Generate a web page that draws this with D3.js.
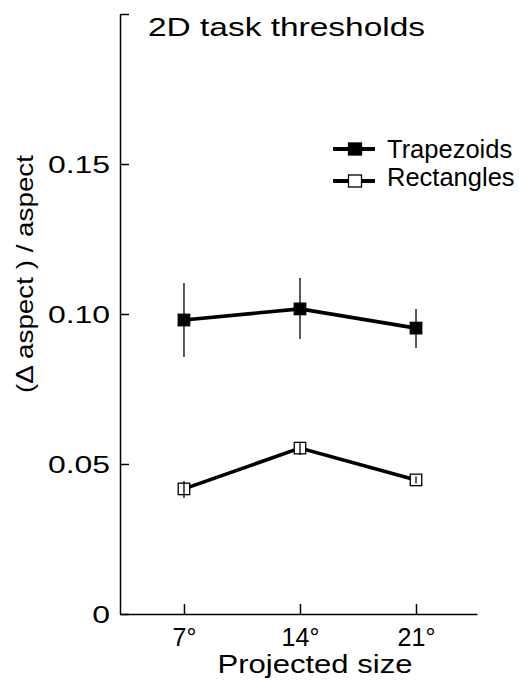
<!DOCTYPE html>
<html>
<head>
<meta charset="utf-8">
<script src="https://cdn.jsdelivr.net/npm/d3@7"></script>
<style>
  body { margin: 0; background: #fff; }
  text { font-family: "Liberation Sans", Arial, Helvetica, sans-serif; fill: #000; }
</style>
</head>
<body>
<div id="chart-area"></div>
<script>

// Data
var sizes = [7, 14, 21];
var sizeLabels = ["7°", "14°", "21°"];

var trapezoids   = [0.0980, 0.1017, 0.0953];
var trapezoidsLo = [0.0857, 0.0917, 0.0887];
var trapezoidsHi = [0.1103, 0.1120, 0.1017];

var rectangles   = [0.0417, 0.0553, 0.0447];
var rectanglesLo = [0.0387, 0.0530, 0.0436];
var rectanglesHi = [0.0443, 0.0573, 0.0458];

var yTicks = [0, 0.05, 0.10, 0.15, 0.20];
var yTickLabels = ["0", "0.05", "0.10", "0.15", ""];

var seriesNames = ["Trapezoids", "Rectangles"];

// SVG drawing area
var margin = {top: 14, right: 42, bottom: 72, left: 120};

var width = 519 - margin.left - margin.right,
    height = 686 - margin.top - margin.bottom;

var svg = d3.select("#chart-area").append("svg")
    .attr("width", 519)
    .attr("height", 686)
  .append("g")
    .attr("transform", "translate(" + margin.left + "," + margin.top + ")");

// scales
var x = d3.scaleLinear()
    .domain([3.14, 24.68])
    .range([0, width]);

var y = d3.scaleLinear()
    .domain([0, 0.2])
    .range([height, 0]);

var xAxis = d3.axisBottom(x)
    .tickValues(sizes)
    .tickFormat(function(d, i) { return sizeLabels[i]; })
    .tickSizeInner(-10)
    .tickSizeOuter(0)
    .tickPadding(14);

var yAxis = d3.axisLeft(y)
    .tickValues(yTicks)
    .tickFormat(function(d, i) { return yTickLabels[i]; })
    .tickSizeInner(-9)
    .tickSizeOuter(0)
    .tickPadding(10);

var gx = svg.append("g")
    .attr("class", "axis x-axis")
    .attr("transform", "translate(0," + height + ")")
    .call(xAxis);

var gy = svg.append("g")
    .attr("class", "axis y-axis")
    .call(yAxis);

[gx, gy].forEach(function(g) {
  g.attr("font-family", null).attr("font-size", null);
  g.selectAll("path, line").attr("stroke", "#000").attr("stroke-width", 1.5);
});

gx.selectAll("text").attr("font-size", 25);

// y tick labels look wide in the original
gy.selectAll("text")
    .attr("font-size", 24)
    .attr("dy", "0.36em")
    .each(function() {
      var len = this.getComputedTextLength();
      if (len > 0) {
        d3.select(this)
          .attr("textLength", len * 1.33)
          .attr("lengthAdjust", "spacingAndGlyphs");
      }
    });

// axis titles
svg.append("text")
    .attr("x", x(14) + 15)
    .attr("y", height + 59)
    .attr("text-anchor", "middle")
    .attr("font-size", 26)
    .attr("textLength", 195)
    .attr("lengthAdjust", "spacingAndGlyphs")
    .text("Projected size");

svg.append("text")
    .attr("transform", "translate(" + (33 - margin.left) + "," + (274 - margin.top) + ") rotate(-90)")
    .attr("text-anchor", "middle")
    .attr("font-size", 24)
    .attr("textLength", 238)
    .attr("lengthAdjust", "spacingAndGlyphs")
    .text("(\u0394 aspect ) / aspect");

// title
svg.append("text")
    .attr("x", 148 - margin.left)
    .attr("y", 36 - margin.top)
    .attr("font-size", 26)
    .attr("textLength", 277)
    .attr("lengthAdjust", "spacingAndGlyphs")
    .text("2D task thresholds");

// series
var series = [
  {name: seriesNames[0], values: trapezoids, lo: trapezoidsLo, hi: trapezoidsHi, fill: "#000"},
  {name: seriesNames[1], values: rectangles, lo: rectanglesLo, hi: rectanglesHi, fill: "#fff"}
];

var line = d3.line()
    .x(function(d, i) { return x(sizes[i]); })
    .y(function(d) { return y(d); });

var ms = 11.5;

series.forEach(function(s) {
  var g = svg.append("g");

  g.append("path")
      .datum(s.values)
      .attr("d", line)
      .attr("fill", "none")
      .attr("stroke", "#000")
      .attr("stroke-width", 3.6);

  g.selectAll("rect")
      .data(s.values)
    .enter().append("rect")
      .attr("x", function(d, i) { return x(sizes[i]) - ms / 2; })
      .attr("y", function(d) { return y(d) - ms / 2; })
      .attr("width", ms)
      .attr("height", ms)
      .attr("fill", s.fill)
      .attr("stroke", "#000")
      .attr("stroke-width", 1.3);

  // error bars on top
  g.selectAll(".err")
      .data(s.values)
    .enter().append("line")
      .attr("class", "err")
      .attr("x1", function(d, i) { return x(sizes[i]); })
      .attr("x2", function(d, i) { return x(sizes[i]); })
      .attr("y1", function(d, i) { return y(s.lo[i]); })
      .attr("y2", function(d, i) { return y(s.hi[i]); })
      .attr("stroke", "#000")
      .attr("stroke-width", 1.3);
});

// legend
var legend = svg.append("g")
    .attr("transform", "translate(" + (355 - margin.left) + "," + (149 - margin.top) + ")");

series.forEach(function(s, i) {
  var row = legend.append("g").attr("transform", "translate(0," + (i * 32) + ")");
  row.append("line")
      .attr("x1", -22).attr("x2", 20)
      .attr("stroke", "#000")
      .attr("stroke-width", 3.8);
  row.append("rect")
      .attr("x", -6.5).attr("y", -6)
      .attr("width", 13).attr("height", 12)
      .attr("fill", s.fill)
      .attr("stroke", "#000")
      .attr("stroke-width", 1.3);
  row.append("text")
      .attr("x", 32)
      .attr("y", 8.5 - i * 4)
      .attr("font-size", 25.5)
      .text(s.name);
});

</script>
</body>
</html>
